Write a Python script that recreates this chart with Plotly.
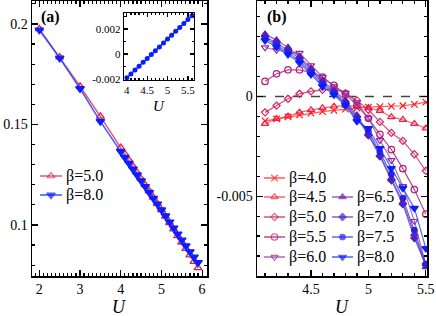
import plotly.graph_objects as go

FONT = "Liberation Serif, Times New Roman, DejaVu Serif, serif"
W, H = 436, 316

# ---------------- panel (a) data ----------------
U_a = [2.0, 2.5, 3.0, 3.5, 4.0, 4.1, 4.2, 4.3, 4.4, 4.5, 4.6, 4.7, 4.8, 4.9,
       5.0, 5.1, 5.2, 5.3, 5.4, 5.5, 5.6, 5.7, 5.8, 5.9]
a_beta50 = [0.1975, 0.1835, 0.1690, 0.1540, 0.1385, 0.1354, 0.1323, 0.1292, 0.1261,
            0.1230, 0.1199, 0.1168, 0.1137, 0.1106, 0.1075, 0.1043, 0.1011, 0.0979,
            0.0946, 0.0914, 0.0882, 0.0850, 0.0818, 0.0786]
a_beta80 = [0.1970, 0.1830, 0.1678, 0.1515, 0.1365, 0.1336, 0.1307, 0.1278, 0.1249,
            0.1220, 0.1191, 0.1162, 0.1133, 0.1104, 0.1075, 0.1045, 0.1015, 0.0985,
            0.0955, 0.0925, 0.0896, 0.0867, 0.0840, 0.0813]
a_labels = ["β=5.0", "β=8.0"]

# inset data
U_in = [4.0, 4.1, 4.2, 4.3, 4.4, 4.5, 4.6, 4.7, 4.8, 4.9, 5.0, 5.1, 5.2, 5.3, 5.4, 5.5, 5.6]
d_in = [-0.00190, -0.00160, -0.00128, -0.00098, -0.00066, -0.00036, -0.00004, 0.00027,
        0.00057, 0.00089, 0.00120, 0.00150, 0.00182, 0.00213, 0.00244, 0.00276, 0.00306]

# ---------------- panel (b) data ----------------
U_b = [4.1, 4.2, 4.3, 4.4, 4.5, 4.6, 4.7, 4.8, 4.9, 5.0, 5.1, 5.2, 5.3, 5.4, 5.5]
b_labels = ["β=4.0", "β=4.5", "β=5.0", "β=5.5", "β=6.0", "β=6.5", "β=7.0", "β=7.5", "β=8.0"]
b_40 = [-0.00123, -0.00113, -0.00103, -0.00093, -0.00084, -0.00076, -0.00070, -0.00064,
        -0.00058, -0.00054, -0.00051, -0.00050, -0.00047, -0.00040, -0.00029]
b_45 = [-0.00137, -0.00112, -0.00100, -0.00080, -0.00068, -0.00058, -0.00050, -0.00046,
        -0.00049, -0.00057, -0.00072, -0.00103, -0.00117, -0.00137, -0.00160]
b_50 = [-0.00080, -0.00046, -0.00012, 0.00013, 0.00025, 0.00033, 0.00036, 0.00016,
        -0.00020, -0.00067, -0.00128, -0.00183, -0.00223, -0.00290, -0.00373]
b_55 = [0.00075, 0.00113, 0.00133, 0.00133, 0.00120, 0.00097, 0.00055, 0.00010,
        -0.00045, -0.00110, -0.00190, -0.00267, -0.00362, -0.00467, -0.00590]
b_60 = [0.00245, 0.00232, 0.00220, 0.00217, 0.00155, 0.00097, 0.00050, 0.00018,
        -0.00030, -0.00110, -0.00220, -0.00320, -0.00450, -0.00625, -0.00845]
b_65 = [0.00312, 0.00282, 0.00245, 0.00200, 0.00140, 0.00080, 0.00030, -0.00020,
        -0.00095, -0.00185, -0.00292, -0.00410, -0.00530, -0.00690, -0.00855]
b_70 = [0.00300, 0.00268, 0.00232, 0.00190, 0.00130, 0.00070, 0.00022, -0.00030,
        -0.00105, -0.00195, -0.00300, -0.00420, -0.00540, -0.00710, -0.00845]
b_75 = [0.00290, 0.00258, 0.00220, 0.00178, 0.00120, 0.00060, 0.00015, -0.00040,
        -0.00115, -0.00175, -0.00280, -0.00390, -0.00510, -0.00670, -0.00840]
b_80 = [0.00280, 0.00248, 0.00210, 0.00168, 0.00110, 0.00050, 0.00008, -0.00045,
        -0.00125, -0.00160, -0.00260, -0.00360, -0.00460, -0.00560, -0.00762]

# tick labels
a_xticks = [2, 3, 4, 5, 6]
a_xticktext = ["2", "3", "4", "5", "6"]
a_yticks = [0.1, 0.15, 0.2]
a_yticktext = ["0.1", "0.15", "0.2"]
in_xticks = [4, 4.5, 5, 5.5]
in_xticktext = ["4", "4.5", "5", "5.5"]
in_yticks = [-0.002, 0, 0.002]
in_yticktext = ["-0.002", "0", "0.002"]
b_xticks = [4.5, 5, 5.5]
b_xticktext = ["4.5", "5", "5.5"]
b_yticks = [-0.005, 0]
b_yticktext = ["-0.005", "0"]

fig = go.Figure()

# ---- styles ----
a_marker_col = ["#d81e4a", "#0a1eff"]
a_line_col = ["rgba(215,60,100,0.85)", "rgba(40,70,255,0.9)"]
a_symbols = ["triangle-up-open", "triangle-down"]
a_sizes = [7, 7.5]

b_marker_col = ["#ff1a1a", "#ef1f3c", "#d42060", "#b4207a", "#93289a", "#7020a8",
                "#5020c0", "#2a22e0", "#0a1eff"]
b_line_col = ["rgba(255,60,60,0.85)", "rgba(240,70,90,0.85)", "rgba(210,50,100,0.85)",
              "rgba(175,40,125,0.85)", "rgba(150,70,170,0.8)", "rgba(120,60,180,0.8)",
              "rgba(90,60,200,0.8)", "rgba(60,60,230,0.8)", "rgba(40,70,255,0.85)"]
b_symbols = ["x-thin-open", "triangle-up-open", "diamond-open", "circle-open",
             "triangle-down-open", "triangle-up", "diamond", "circle", "triangle-down"]
b_sizes = [6.5, 6.5, 5.5, 6.5, 6.5, 6.5, 5.5, 5.5, 7]

# panel (a)
for lab, ys, mc, lc, sym, sz in zip(a_labels, [a_beta50, a_beta80], a_marker_col,
                                     a_line_col, a_symbols, a_sizes):
    fig.add_trace(go.Scatter(x=U_a, y=ys, mode="lines+markers", name=lab, showlegend=False,
                             line=dict(color=lc, width=1.5),
                             marker=dict(symbol=sym, size=sz, color=mc,
                                         line=dict(width=1.3, color=mc)),
                             xaxis="x", yaxis="y"))
# inset
fig.add_trace(go.Scatter(x=U_in, y=d_in, mode="lines+markers", showlegend=False,
                         line=dict(color="#1a3cff", width=1.5),
                         marker=dict(symbol="circle", size=5, color="#0a1eff"),
                         xaxis="x3", yaxis="y3"))

# panel (b)
b_series = [b_40, b_45, b_50, b_55, b_60, b_65, b_70, b_75, b_80]
for lab, ys, mc, lc, sym, sz in zip(b_labels, b_series, b_marker_col, b_line_col,
                                     b_symbols, b_sizes):
    fig.add_trace(go.Scatter(x=U_b, y=ys, mode="lines+markers", name=lab, showlegend=False,
                             line=dict(color=lc, width=1.2),
                             marker=dict(symbol=sym, size=sz, color=mc,
                                         line=dict(width=1.2, color=mc)),
                             xaxis="x2", yaxis="y2"))

# ---- hand-placed legend keys (pixel overlay axis) ----
a_key_pos = [(40, 62, 176), (40, 62, 195)]
b_key_pos = [(264, 285, 178), (264, 285, 197), (264, 285, 217), (264, 285, 237),
             (264, 285, 257), (332, 353, 197), (332, 353, 217), (332, 353, 237),
             (332, 353, 257)]
annotations = []
for (x0, x1, yy), lab, mc, lc, sym, sz in zip(
        a_key_pos + b_key_pos, a_labels + b_labels,
        a_marker_col + b_marker_col, a_line_col + b_line_col,
        a_symbols + b_symbols, a_sizes + b_sizes):
    fig.add_trace(go.Scatter(x=[x0, (x0 + x1) / 2, x1], y=[yy, yy, yy], mode="lines+markers",
                             showlegend=False, hoverinfo="skip",
                             line=dict(color=lc, width=1.5),
                             marker=dict(symbol=sym, size=[0, sz, 0], color=mc,
                                         line=dict(width=1.2, color=mc)),
                             xaxis="x4", yaxis="y4"))
    annotations.append(dict(text=lab, x=(x1 + 2) / W, y=1 - yy / H, xref="paper", yref="paper",
                            xanchor="left", yanchor="middle", showarrow=False,
                            font=dict(family=FONT, size=16, color="black")))

axis_common = dict(showline=True, linecolor="black", linewidth=1.5, mirror="allticks",
                   ticks="inside", ticklen=6, tickwidth=1.2, tickcolor="black",
                   showgrid=False, zeroline=False, automargin=False,
                   tickfont=dict(family=FONT, size=14, color="black"))
inset_common = {**axis_common, "ticklen": 4, "linewidth": 1.2,
                "tickfont": dict(family=FONT, size=11, color="black")}

annotations += [
    dict(text="<b>(a)</b>", x=39 / W, y=1 - 6 / H, xref="paper", yref="paper",
         xanchor="left", yanchor="top", showarrow=False,
         font=dict(family=FONT, size=16, color="black")),
    dict(text="<b>(b)</b>", x=265 / W, y=1 - 6 / H, xref="paper", yref="paper",
         xanchor="left", yanchor="top", showarrow=False,
         font=dict(family=FONT, size=16, color="black")),
    dict(text="<i>U</i>", x=119 / W, y=1 - 307 / H, xref="paper", yref="paper",
         xanchor="center", yanchor="middle", showarrow=False,
         font=dict(family=FONT, size=18, color="black")),
    dict(text="<i>U</i>", x=342 / W, y=1 - 307 / H, xref="paper", yref="paper",
         xanchor="center", yanchor="middle", showarrow=False,
         font=dict(family=FONT, size=18, color="black")),
    dict(text="<i>U</i>", x=159 / W, y=1 - 106 / H, xref="paper", yref="paper",
         xanchor="center", yanchor="middle", showarrow=False,
         font=dict(family=FONT, size=15, color="black")),
]

fig.update_layout(
    width=W, height=H, margin=dict(l=0, r=0, t=0, b=0),
    paper_bgcolor="white", plot_bgcolor="rgba(0,0,0,0)", showlegend=False,
    font=dict(family=FONT, size=14, color="black"),
    xaxis=dict(domain=[32 / W, 207 / W], range=[1.82, 6.12], anchor="y",
               tickvals=a_xticks, ticktext=a_xticktext,
               minor=dict(dtick=0.1, ticks="inside", ticklen=3, tickcolor="black"),
               **axis_common),
    yaxis=dict(domain=[1 - 276 / H, 1 - 1 / H], range=[0.0746, 0.2114], anchor="x",
               tickvals=a_yticks, ticktext=a_yticktext,
               minor=dict(dtick=0.01, ticks="inside", ticklen=3, tickcolor="black"),
               **axis_common),
    xaxis2=dict(domain=[257 / W, 427 / W], range=[4.03, 5.51], anchor="y2",
                tickvals=b_xticks, ticktext=b_xticktext,
                minor=dict(dtick=0.1, tick0=4.0, ticks="inside", ticklen=3, tickcolor="black"),
                **axis_common),
    yaxis2=dict(domain=[1 - 276 / H, 1 - 1 / H], range=[-0.0090, 0.00478], anchor="x2",
                tickvals=b_yticks, ticktext=b_yticktext,
                minor=dict(dtick=0.001, tick0=0, ticks="inside", ticklen=3, tickcolor="black"),
                **axis_common),
    xaxis3=dict(domain=[124 / W, 194 / W], range=[3.93, 5.65], anchor="y3",
                tickvals=in_xticks, ticktext=in_xticktext,
                minor=dict(dtick=0.1, tick0=4.0, ticks="inside", ticklen=2, tickcolor="black"),
                **inset_common),
    yaxis3=dict(domain=[1 - 80 / H, 1 - 13 / H], range=[-0.00208, 0.00328], anchor="x3",
                tickvals=in_yticks, ticktext=in_yticktext,
                minor=dict(dtick=0.001, tick0=0, ticks="inside", ticklen=2, tickcolor="black"),
                **inset_common),
    xaxis4=dict(domain=[0, 1], range=[0, W], anchor="y4", visible=False, fixedrange=True),
    yaxis4=dict(domain=[0, 1], range=[H, 0], anchor="x4", visible=False, fixedrange=True),
    shapes=[dict(type="line", xref="x2 domain", yref="y2", x0=0, x1=1, y0=0, y1=0,
                 line=dict(color="#444444", width=1.5, dash="dash"), layer="below")],
    annotations=annotations,
)

fig.write_html("out.html", config={"displayModeBar": False, "staticPlot": True},
               post_script="document.body.style.margin='0';document.body.style.padding='0';"
                           "document.body.style.overflow='hidden';")
